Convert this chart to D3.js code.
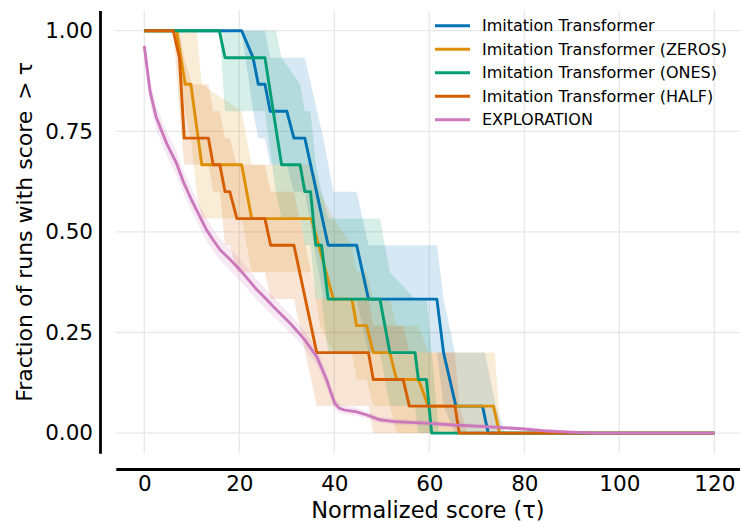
<!DOCTYPE html>
<html>
<head>
<meta charset="utf-8">
<script src="https://cdn.jsdelivr.net/npm/d3@7"></script>
<style>
body { margin: 0; background: #fff; }
text { font-family: "DejaVu Sans", sans-serif; }
</style>
</head>
<body>
<div id="chart"></div>
<script>
// legend order == draw order
const seriesNames = [
    "Imitation Transformer",
    "Imitation Transformer (ZEROS)",
    "Imitation Transformer (ONES)",
    "Imitation Transformer (HALF)",
    "EXPLORATION"
]
const seriesColors = ['#0173b2', '#de8f05', '#029e73', '#d55e00', '#cc78bc']
const xTicks = [0, 20, 40, 60, 80, 100, 120]
const yTicks = [0, 0.25, 0.5, 0.75, 1]

// [tau, fraction]
const itLine = [[0,1],[20.5,1],[22.9,0.933],[24,0.867],[25.4,0.867],[26.5,0.8],[30,0.8],[31.5,0.733],[33.8,0.733],[38.7,0.467],[44.7,0.467],[47.2,0.333],[61.6,0.333],[63,0.2],[65.6,0.067],[71.2,0.067],[72.4,0],[120,0]]
const zerosLine = [[0,1],[6.8,1],[8.6,0.867],[9.8,0.867],[12.1,0.667],[20.5,0.667],[22.6,0.533],[35.2,0.533],[39.8,0.333],[43.7,0.333],[44.7,0.267],[46.8,0.267],[48.2,0.2],[51.7,0.2],[53.1,0.133],[57.7,0.133],[59.8,0.067],[73.5,0.067],[74.8,0],[120,0]]
const onesLine = [[0,1],[15.8,1],[17,0.933],[25.4,0.933],[28.9,0.667],[32.8,0.667],[33.8,0.6],[35,0.6],[36.1,0.467],[37.3,0.467],[38.7,0.333],[49.6,0.333],[51.7,0.2],[57,0.2],[57.7,0.133],[59.4,0.133],[60.5,0],[120,0]]
const halfLine = [[0,1],[6.1,1],[7.4,0.933],[8.4,0.733],[13.5,0.733],[14.5,0.667],[15.9,0.667],[17,0.6],[18,0.6],[19.5,0.533],[25.4,0.533],[26.6,0.467],[31.5,0.467],[36.3,0.2],[47.2,0.2],[48.2,0.133],[54.5,0.133],[55.8,0.067],[65.4,0.067],[66.3,0],[120,0]]
const explLine = [[0,0.962],[1.2,0.85],[2.5,0.785],[4.7,0.72],[6.8,0.67],[8.2,0.625],[10,0.578],[11.7,0.538],[13.1,0.505],[14.6,0.478],[16,0.455],[18,0.432],[20.2,0.405],[22,0.38],[23.7,0.356],[25.5,0.335],[27.2,0.314],[29,0.293],[30.7,0.273],[32.3,0.252],[33.8,0.231],[35.2,0.208],[36.3,0.19],[37.4,0.16],[38.4,0.132],[39.3,0.1],[40.1,0.074],[41,0.062],[42.2,0.057],[44.7,0.053],[46.8,0.045],[49.6,0.033],[53.1,0.028],[57,0.026],[60.2,0.024],[65,0.02],[72,0.016],[80,0.01],[85,0.005],[90,0.002],[95,0],[120,0]]

// [tau, lower, upper]
const itBand = [[0,1,1],[20.5,1,1],[22.9,0.8,1],[24,0.733,1],[25.4,0.733,1],[26.5,0.667,0.933],[30,0.667,0.933],[31.5,0.6,0.933],[33.8,0.6,0.933],[37.7,0.333,0.733],[39.8,0.333,0.6],[44.7,0.333,0.6],[47.2,0.2,0.467],[61.6,0.2,0.467],[63,0.067,0.333],[65.4,0,0.2],[71.7,0,0.2],[74,0,0.067],[76,0,0]]
const zerosBand = [[0,1,1],[6.8,1,1],[8.6,0.8,1],[9.8,0.733,1],[11,0.6,1],[12.1,0.533,0.867],[20.5,0.533,0.8],[22.6,0.4,0.667],[35.2,0.4,0.667],[37,0.267,0.6],[39.8,0.2,0.533],[43.7,0.2,0.467],[44.7,0.133,0.4],[46.8,0.133,0.4],[48.2,0.067,0.333],[51.7,0.067,0.333],[53.1,0,0.267],[57.7,0,0.267],[59.8,0,0.2],[73.8,0,0.2],[75,0,0]]
const onesBand = [[0,1,1],[15.8,1,1],[17,0.8,1],[25.4,0.8,1],[27.7,0.6,1],[28.9,0.533,0.933],[32.8,0.533,0.867],[33.8,0.467,0.8],[35,0.467,0.8],[36.1,0.333,0.667],[37.3,0.333,0.6],[38.7,0.2,0.533],[49.6,0.2,0.533],[51.7,0.067,0.4],[57,0.067,0.333],[57.7,0,0.333],[59.4,0,0.333],[60.5,0,0.2],[62,0,0]]
const halfBand = [[0,1,1],[6.1,1,1],[7.4,0.8,1],[8.4,0.667,0.933],[10,0.667,0.867],[13.5,0.667,0.867],[14.5,0.6,0.8],[15.9,0.6,0.8],[17,0.467,0.733],[18,0.467,0.733],[19.5,0.4,0.667],[25.4,0.4,0.667],[26.6,0.333,0.6],[31.5,0.333,0.6],[36.3,0.067,0.333],[47.2,0.067,0.333],[48.2,0,0.267],[54.5,0,0.267],[55.8,0,0.2],[65.4,0,0.2],[66.3,0,0.067],[68,0,0]]
const explBand = [[0,0.94,0.985],[1.2,0.82,0.88],[2.5,0.755,0.815],[4.7,0.69,0.75],[6.8,0.64,0.7],[8.2,0.597,0.653],[10,0.55,0.606],[11.7,0.51,0.566],[13.1,0.477,0.533],[14.6,0.45,0.506],[16,0.428,0.482],[18,0.405,0.459],[20.2,0.378,0.432],[22,0.354,0.406],[23.7,0.33,0.382],[25.5,0.31,0.36],[27.2,0.29,0.338],[29,0.27,0.316],[30.7,0.25,0.296],[32.3,0.23,0.274],[33.8,0.21,0.252],[35.2,0.188,0.228],[36.3,0.17,0.21],[37.4,0.14,0.18],[38.4,0.113,0.151],[39.3,0.083,0.117],[40.1,0.06,0.088],[41,0.05,0.074],[42.2,0.046,0.068],[44.7,0.043,0.063],[46.8,0.036,0.054],[49.6,0.025,0.041],[53.1,0.021,0.035],[57,0.019,0.033],[60.2,0.017,0.031],[65,0.014,0.026],[72,0.01,0.022],[80,0.005,0.015],[85,0.001,0.009],[90,0,0.004],[95,0,0],[120,0,0]]

const lines = [itLine, zerosLine, onesLine, halfLine, explLine]
const bands = [itBand, zerosBand, onesBand, halfBand, explBand]

const width = 740, height = 527
const margin = { left: 115.8, right: 742.8, top: 10.6, bottom: 453.2 }
const spineOffset = 15.8

var x = d3.scaleLinear().domain([-6, 126]).range([margin.left, margin.right])
var y = d3.scaleLinear().domain([-0.05, 1.05]).range([margin.bottom, margin.top])

var svg = d3.select('#chart').append('svg')
    .attr('width', width)
    .attr('height', height)

// grid
svg.append('g').selectAll('line').data(xTicks).enter().append('line')
    .attr('x1', d => x(d)).attr('x2', d => x(d))
    .attr('y1', margin.top).attr('y2', margin.bottom)
    .attr('stroke', '#e8e8e8').attr('stroke-width', 1.3)
svg.append('g').selectAll('line').data(yTicks).enter().append('line')
    .attr('x1', margin.left).attr('x2', margin.right)
    .attr('y1', d => y(d)).attr('y2', d => y(d))
    .attr('stroke', '#e8e8e8').attr('stroke-width', 1.3)

// confidence bands
var area = d3.area()
    .x(d => x(d[0]))
    .y0(d => y(d[1]))
    .y1(d => y(d[2]))
svg.append('g').selectAll('path').data(bands).enter().append('path')
    .attr('d', d => area(d))
    .attr('fill', (d, i) => seriesColors[i])
    .attr('fill-opacity', 0.16)

// profiles
var line = d3.line().x(d => x(d[0])).y(d => y(d[1]))
svg.append('g').selectAll('path').data(lines).enter().append('path')
    .attr('d', d => line(d))
    .attr('fill', 'none')
    .attr('stroke', (d, i) => seriesColors[i])
    .attr('stroke-width', 2.9)
    .attr('stroke-linejoin', 'round')

// spines (offset, like seaborn despine)
var yAxis = d3.axisLeft(y).tickValues(yTicks).tickFormat(d3.format('.2f')).tickSize(0).tickPadding(7)
var gy = svg.append('g').attr('transform', 'translate(' + (margin.left - spineOffset) + ',0)').call(yAxis)
var xAxis = d3.axisBottom(x).tickValues(xTicks).tickFormat(d3.format('d')).tickSize(0).tickPadding(7)
var gx = svg.append('g').attr('transform', 'translate(0,' + (margin.bottom + spineOffset) + ')').call(xAxis)
svg.selectAll('.domain').attr('stroke', '#000').attr('stroke-width', 2.8)
svg.selectAll('.tick text')
    .attr('font-family', 'DejaVu Sans')
    .attr('font-size', 21.5)
    .attr('fill', '#000')

// axis labels
svg.append('text')
    .attr('x', (margin.left + 740) / 2)
    .attr('y', 518)
    .attr('text-anchor', 'middle')
    .attr('font-size', 22.5)
    .text('Normalized score (τ)')

var ylab = svg.append('text')
    .attr('transform', 'translate(32,' + ((margin.top + margin.bottom) / 2) + ') rotate(-90)')
    .attr('text-anchor', 'middle')
    .attr('font-size', 22)
ylab.append('tspan').text('Fraction of runs with score')
ylab.append('tspan').attr('dx', 11).text('>')
ylab.append('tspan').attr('dx', 6).text('τ')

// legend
var legend = svg.append('g').selectAll('g').data(seriesNames).enter().append('g')
    .attr('transform', (d, i) => 'translate(435,' + (25.7 + i * 23.5) + ')')
legend.append('line')
    .attr('x1', 0).attr('x2', 35)
    .attr('stroke', (d, i) => seriesColors[i])
    .attr('stroke-width', 3)
legend.append('text')
    .attr('x', 47)
    .attr('dy', '0.35em')
    .attr('font-size', 16)
    .text(d => d)
</script>
</body>
</html>
